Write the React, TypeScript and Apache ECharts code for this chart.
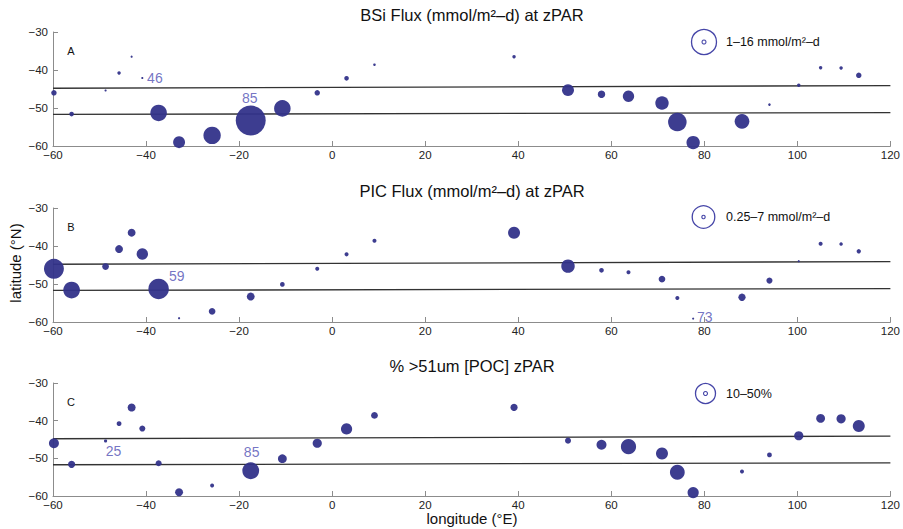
import React, { useEffect, useRef } from "react";
import * as echarts from "echarts";

// Station positions (longitude °E, latitude °N)
const lon = [-59.8, -56, -48.7, -45.8, -43.1, -40.8, -37.3, -32.9, -25.8, -17.5, -10.7, -3.2, 3.1, 9.1, 39.1, 50.7, 57.9, 63.7, 70.9, 74.2, 77.6, 88.1, 94, 100.3, 105, 109.4, 113.2];
const lat = [-46, -51.6, -45.4, -40.8, -36.5, -42.1, -51.3, -59, -57.2, -53.3, -50.1, -46, -42.2, -38.6, -36.5, -45.3, -46.4, -46.9, -48.7, -53.7, -59.1, -53.5, -49.1, -44, -39.4, -39.5, -41.4];

// Panel A: BSi flux (mmol/m2-d)
const bsi = [2.4, 1.8, 0.1, 1.0, 0.1, 0.1, 10.1, 6.9, 10.7, 19.4, 10.1, 2.4, 1.8, 0.4, 1.0, 6.9, 3.8, 6.5, 7.9, 11.5, 7.9, 8.8, 0.4, 1.0, 1.0, 1.0, 2.4];
// Panel B: PIC flux (mmol/m2-d)
const pic = [6.1, 5.0, 1.6, 2.0, 2.0, 3.2, 6.3, 0.05, 1.6, 2.0, 0.9, 0.7, 0.7, 0.7, 3.4, 3.9, 0.9, 0.7, 1.6, 0.7, 0.05, 1.8, 1.4, 0.05, 0.7, 0.5, 0.8];
// Panel C: % >51um [POC]
const pct = [25, 18, 8, 12, 20, 15, 15, 20, 10, 42, 22, 23, 28, 17, 18, 15, 25, 38, 30, 37, 28, 10, 12, 23, 22, 23, 30];

// Front lines: [lon, lat] end points
const frontNorth = [[-60, -44.8], [120, -44.1]];
const frontSouth = [[-60, -51.7], [120, -51.2]];

// Annotation labels
const annA = [{ lon: -38.1, lat: -42.2, text: "46" }, { lon: -17.7, lat: -47.4, text: "85" }];
const annB = [{ lon: -33.4, lat: -47.8, text: "59" }, { lon: 80.1, lat: -58.6, text: "73" }];
const annC = [{ lon: -47.0, lat: -48.0, text: "25" }, { lon: -17.3, lat: -48.3, text: "85" }];

const titles = ["BSi Flux (mmol/m²–d) at zPAR", "PIC Flux (mmol/m²–d) at zPAR", "% >51um [POC] zPAR"];
const letters = ["A", "B", "C"];
const legendTexts = ["1–16 mmol/m²–d", "0.25–7 mmol/m²–d", "10–50%"];

const FONT = "Liberation Sans, Arial, Helvetica, sans-serif";
const DOT = "#33338a";
const LBL = "#5050b4";

const grids = [
  { top: 32, height: 114 },
  { top: 208, height: 114 },
  { top: 383, height: 113 },
];
const LEFT = 53;
const RIGHT = 12;

// radius = a + b * value
const sizeMaps = [
  { a: 1, b: 0.72 },
  { a: 1, b: 1.47 },
  { a: 0, b: 0.2 },
];

export default function App() {
  const ref = useRef<HTMLDivElement>(null);
  useEffect(() => {
    if (!ref.current) return;
    const chart = echarts.init(ref.current, undefined, { renderer: "svg" });
    const values = [bsi, pic, pct];
    const anns = [annA, annB, annC];
    const fmt = (v: number) => String(v).replace("-", "−");

    const xAxis = grids.map((_, i) => ({
      type: "value",
      gridIndex: i,
      min: -60,
      max: 120,
      interval: 20,
      axisLine: { show: true, onZero: false, lineStyle: { color: "#8c8c8c", width: 1 } },
      axisTick: { show: true, inside: true, length: 5, lineStyle: { color: "#8c8c8c" } },
      axisLabel: { fontFamily: FONT, fontSize: 11.5, color: "#222", margin: 3, formatter: fmt },
      splitLine: { show: false },
    }));
    const yAxis = grids.map((_, i) => ({
      type: "value",
      gridIndex: i,
      min: -60,
      max: -30,
      interval: 10,
      axisLine: { show: true, onZero: false, lineStyle: { color: "#8c8c8c", width: 1 } },
      axisTick: { show: true, inside: true, length: 5, lineStyle: { color: "#8c8c8c" } },
      axisLabel: { fontFamily: FONT, fontSize: 11.5, color: "#222", margin: 5, formatter: fmt },
      splitLine: { show: false },
    }));

    const series: any[] = [];
    grids.forEach((_, i) => {
      [frontNorth, frontSouth].forEach((fr) => {
        series.push({
          type: "line",
          xAxisIndex: i,
          yAxisIndex: i,
          data: fr,
          symbol: "none",
          lineStyle: { color: "#333", width: 1.3 },
          z: 2,
          silent: true,
        });
      });
      const sm = sizeMaps[i];
      series.push({
        type: "scatter",
        xAxisIndex: i,
        yAxisIndex: i,
        data: lon.map((x, k) => [x, lat[k], values[i][k]]),
        symbolSize: (d: number[]) => Math.max(2, 2 * (sm.a + sm.b * d[2])),
        itemStyle: { color: DOT, opacity: 0.95 },
        z: 3,
      });
      series.push({
        type: "scatter",
        xAxisIndex: i,
        yAxisIndex: i,
        data: anns[i].map((a) => ({ value: [a.lon, a.lat], name: a.text })),
        symbolSize: 0,
        itemStyle: { color: "transparent" },
        label: {
          show: true,
          position: "inside",
          formatter: (p: any) => p.name,
          fontFamily: FONT,
          fontSize: 14,
          color: LBL,
        },
        z: 4,
        silent: true,
      });
    });

    const legendPos = [
      { x: 704, y: 42, r: 12.5, ri: 2 },
      { x: 703.5, y: 217, r: 11.3, ri: 1.7 },
      { x: 705.5, y: 393.5, r: 10, ri: 2 },
    ];
    const graphic: any[] = [];
    grids.forEach((g, i) => {
      graphic.push({
        type: "text",
        x: LEFT + (903 - LEFT - RIGHT) / 2,
        y: g.top - 17,
        style: { text: titles[i], font: `16.5px ${FONT}`, fill: "#111", align: "center", verticalAlign: "middle" },
      });
      graphic.push({
        type: "text",
        x: 71,
        y: g.top + 19,
        style: { text: letters[i], font: `11px ${FONT}`, fill: "#111", align: "center", verticalAlign: "middle" },
      });
      const lp = legendPos[i];
      graphic.push({ type: "circle", shape: { cx: lp.x, cy: lp.y, r: lp.r }, style: { fill: "none", stroke: "#4646a8", lineWidth: 1.3 } });
      graphic.push({ type: "circle", shape: { cx: lp.x, cy: lp.y, r: lp.ri }, style: { fill: "none", stroke: "#4646a8", lineWidth: 1.1 } });
      graphic.push({
        type: "text",
        x: 726,
        y: lp.y,
        style: { text: legendTexts[i], font: `12.5px ${FONT}`, fill: "#111", align: "left", verticalAlign: "middle" },
      });
    });
    graphic.push({
      type: "text",
      x: 15,
      y: 263,
      rotation: Math.PI / 2,
      style: { text: "latitude (°N)", font: `15px ${FONT}`, fill: "#111", align: "center", verticalAlign: "middle" },
    });
    graphic.push({
      type: "text",
      x: 472,
      y: 518,
      style: { text: "longitude (°E)", font: `15px ${FONT}`, fill: "#111", align: "center", verticalAlign: "middle" },
    });

    chart.setOption({
      animation: false,
      backgroundColor: "#fff",
      grid: grids.map((g) => ({ left: LEFT, right: RIGHT, top: g.top, height: g.height })),
      xAxis,
      yAxis,
      series,
      graphic,
    });
    return () => chart.dispose();
  }, []);
  return <div ref={ref} style={{ width: 903, height: 529, position: "absolute", left: 0, top: 0 }} />;
}
